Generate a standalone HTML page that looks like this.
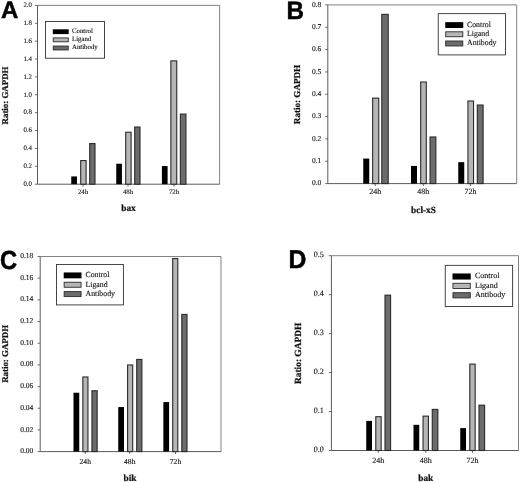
<!DOCTYPE html>
<html><head><meta charset="utf-8"><title>Figure</title>
<style>html,body{margin:0;padding:0;background:#fff;}body{width:520px;height:482px;overflow:hidden;}svg{display:block;}text{font-family:"Liberation Serif", serif;fill:#111;text-rendering:geometricPrecision;stroke:#111;stroke-width:0.12;}.b{font-family:"Liberation Sans", sans-serif;font-weight:bold;fill:#000;stroke:#000;stroke-width:0.5;stroke-linejoin:round;}.s{font-weight:bold;stroke-width:0.22;}</style>
</head><body>
<svg width="520" height="482" viewBox="0 0 520 482">
<defs><filter id="soft" x="0" y="0" width="100%%" height="100%%" filterUnits="userSpaceOnUse"><feGaussianBlur stdDeviation="0.32"/></filter></defs>
<rect x="0" y="0" width="520" height="482" fill="#fff"/>
<g filter="url(#soft)">
<g>
<path d="M37.50 5.40 H219.60 V184.20" fill="none" stroke="#5a5a5a" stroke-width="0.75"/>
<path d="M37.50 5.40 V184.20 H219.60" fill="none" stroke="#4a4a4a" stroke-width="0.9"/>
<path d="M34.90 184.20 H37.50" stroke="#4a4a4a" stroke-width="0.8"/>
<text x="32.00" y="185.95" font-size="6.90" text-anchor="end">0.0</text>
<path d="M34.90 166.32 H37.50" stroke="#4a4a4a" stroke-width="0.8"/>
<text x="32.00" y="168.07" font-size="6.90" text-anchor="end">0.2</text>
<path d="M34.90 148.44 H37.50" stroke="#4a4a4a" stroke-width="0.8"/>
<text x="32.00" y="150.19" font-size="6.90" text-anchor="end">0.4</text>
<path d="M34.90 130.56 H37.50" stroke="#4a4a4a" stroke-width="0.8"/>
<text x="32.00" y="132.31" font-size="6.90" text-anchor="end">0.6</text>
<path d="M34.90 112.68 H37.50" stroke="#4a4a4a" stroke-width="0.8"/>
<text x="32.00" y="114.43" font-size="6.90" text-anchor="end">0.8</text>
<path d="M34.90 94.80 H37.50" stroke="#4a4a4a" stroke-width="0.8"/>
<text x="32.00" y="96.55" font-size="6.90" text-anchor="end">1.0</text>
<path d="M34.90 76.92 H37.50" stroke="#4a4a4a" stroke-width="0.8"/>
<text x="32.00" y="78.67" font-size="6.90" text-anchor="end">1.2</text>
<path d="M34.90 59.04 H37.50" stroke="#4a4a4a" stroke-width="0.8"/>
<text x="32.00" y="60.79" font-size="6.90" text-anchor="end">1.4</text>
<path d="M34.90 41.16 H37.50" stroke="#4a4a4a" stroke-width="0.8"/>
<text x="32.00" y="42.91" font-size="6.90" text-anchor="end">1.6</text>
<path d="M34.90 23.28 H37.50" stroke="#4a4a4a" stroke-width="0.8"/>
<text x="32.00" y="25.03" font-size="6.90" text-anchor="end">1.8</text>
<path d="M34.90 5.40 H37.50" stroke="#4a4a4a" stroke-width="0.8"/>
<text x="32.00" y="7.15" font-size="6.90" text-anchor="end">2.0</text>
<rect x="71.25" y="176.42" width="5.70" height="7.78" fill="#000"/>
<rect x="80.70" y="160.56" width="5.40" height="23.64" fill="#b6b6b6" stroke="#2a2a2a" stroke-width="1.1"/>
<rect x="89.70" y="143.58" width="5.30" height="40.62" fill="#6c6c6c" stroke="#2a2a2a" stroke-width="1.1"/>
<rect x="116.25" y="163.73" width="5.70" height="20.47" fill="#000"/>
<rect x="125.70" y="132.22" width="5.40" height="51.98" fill="#b6b6b6" stroke="#2a2a2a" stroke-width="1.1"/>
<rect x="134.70" y="127.04" width="5.30" height="57.16" fill="#6c6c6c" stroke="#2a2a2a" stroke-width="1.1"/>
<rect x="161.90" y="166.05" width="5.70" height="18.15" fill="#000"/>
<rect x="170.85" y="60.88" width="5.90" height="123.32" fill="#b6b6b6" stroke="#2a2a2a" stroke-width="1.1"/>
<rect x="180.35" y="114.07" width="5.60" height="70.13" fill="#6c6c6c" stroke="#2a2a2a" stroke-width="1.1"/>
<path d="M83.00 184.20 V186.60" stroke="#4a4a4a" stroke-width="0.8"/>
<text x="83.00" y="194.10" font-size="6.80" text-anchor="middle">24h</text>
<path d="M128.00 184.20 V186.60" stroke="#4a4a4a" stroke-width="0.8"/>
<text x="128.00" y="194.10" font-size="6.80" text-anchor="middle">48h</text>
<path d="M174.00 184.20 V186.60" stroke="#4a4a4a" stroke-width="0.8"/>
<text x="174.00" y="194.10" font-size="6.80" text-anchor="middle">72h</text>
<text class="s" x="128.50" y="210.90" font-size="9.3" text-anchor="middle">bax</text>
<text class="s" transform="translate(8.30 95.50) rotate(-90)" font-size="8.90" text-anchor="middle">Ratio: GAPDH</text>
<rect x="45.50" y="21.50" width="59.00" height="36.75" fill="#fff" stroke="#333" stroke-width="0.9"/>
<rect x="52.80" y="29.30" width="15.90" height="4.80" fill="#000"/>
<text x="72.00" y="32.90" font-size="6.80">Control</text>
<rect x="53.25" y="37.90" width="15.00" height="3.90" fill="#b6b6b6" stroke="#2a2a2a" stroke-width="0.9"/>
<text x="72.00" y="41.05" font-size="6.80">Ligand</text>
<rect x="53.25" y="46.05" width="15.00" height="3.90" fill="#6c6c6c" stroke="#2a2a2a" stroke-width="0.9"/>
<text x="72.00" y="49.20" font-size="6.80">Antibody</text>
<text class="b" transform="translate(1.10 18.20) scale(1.000 1)" font-size="24.00">A</text>
</g>
<g>
<path d="M327.80 4.90 H516.70 V183.60" fill="none" stroke="#5a5a5a" stroke-width="0.75"/>
<path d="M327.80 4.90 V183.60 H516.70" fill="none" stroke="#4a4a4a" stroke-width="0.9"/>
<path d="M325.20 183.60 H327.80" stroke="#4a4a4a" stroke-width="0.8"/>
<text x="321.30" y="185.20" font-size="7.50" text-anchor="end">0.0</text>
<path d="M325.20 161.26 H327.80" stroke="#4a4a4a" stroke-width="0.8"/>
<text x="321.30" y="162.86" font-size="7.50" text-anchor="end">0.1</text>
<path d="M325.20 138.93 H327.80" stroke="#4a4a4a" stroke-width="0.8"/>
<text x="321.30" y="140.53" font-size="7.50" text-anchor="end">0.2</text>
<path d="M325.20 116.59 H327.80" stroke="#4a4a4a" stroke-width="0.8"/>
<text x="321.30" y="118.19" font-size="7.50" text-anchor="end">0.3</text>
<path d="M325.20 94.25 H327.80" stroke="#4a4a4a" stroke-width="0.8"/>
<text x="321.30" y="95.85" font-size="7.50" text-anchor="end">0.4</text>
<path d="M325.20 71.91 H327.80" stroke="#4a4a4a" stroke-width="0.8"/>
<text x="321.30" y="73.51" font-size="7.50" text-anchor="end">0.5</text>
<path d="M325.20 49.57 H327.80" stroke="#4a4a4a" stroke-width="0.8"/>
<text x="321.30" y="51.17" font-size="7.50" text-anchor="end">0.6</text>
<path d="M325.20 27.24 H327.80" stroke="#4a4a4a" stroke-width="0.8"/>
<text x="321.30" y="28.84" font-size="7.50" text-anchor="end">0.7</text>
<path d="M325.20 4.90 H327.80" stroke="#4a4a4a" stroke-width="0.8"/>
<text x="321.30" y="6.50" font-size="7.50" text-anchor="end">0.8</text>
<rect x="363.25" y="158.58" width="6.00" height="25.02" fill="#000"/>
<rect x="372.65" y="98.10" width="6.10" height="85.50" fill="#b6b6b6" stroke="#2a2a2a" stroke-width="1.1"/>
<rect x="381.80" y="14.34" width="6.40" height="169.26" fill="#6c6c6c" stroke="#2a2a2a" stroke-width="1.1"/>
<rect x="411.00" y="165.95" width="6.00" height="17.65" fill="#000"/>
<rect x="420.70" y="82.02" width="5.60" height="101.58" fill="#b6b6b6" stroke="#2a2a2a" stroke-width="1.1"/>
<rect x="430.05" y="136.97" width="5.80" height="46.63" fill="#6c6c6c" stroke="#2a2a2a" stroke-width="1.1"/>
<rect x="458.25" y="162.16" width="6.00" height="21.44" fill="#000"/>
<rect x="467.95" y="101.00" width="5.60" height="82.60" fill="#b6b6b6" stroke="#2a2a2a" stroke-width="1.1"/>
<rect x="477.30" y="105.03" width="5.80" height="78.57" fill="#6c6c6c" stroke="#2a2a2a" stroke-width="1.1"/>
<path d="M375.25 183.60 V186.00" stroke="#4a4a4a" stroke-width="0.8"/>
<text x="375.25" y="194.40" font-size="8.00" text-anchor="middle">24h</text>
<path d="M423.25 183.60 V186.00" stroke="#4a4a4a" stroke-width="0.8"/>
<text x="423.25" y="194.40" font-size="8.00" text-anchor="middle">48h</text>
<path d="M470.50 183.60 V186.00" stroke="#4a4a4a" stroke-width="0.8"/>
<text x="470.50" y="194.40" font-size="8.00" text-anchor="middle">72h</text>
<text class="s" x="423.50" y="212.90" font-size="9.3" text-anchor="middle">bcl-xS</text>
<text class="s" transform="translate(299.80 94.50) rotate(-90)" font-size="9.10" text-anchor="middle">Ratio: GAPDH</text>
<rect x="438.25" y="13.65" width="67.25" height="41.25" fill="#fff" stroke="#333" stroke-width="0.9"/>
<rect x="445.25" y="22.15" width="18.00" height="5.85" fill="#000"/>
<text x="467.00" y="26.65" font-size="7.80">Control</text>
<rect x="445.70" y="31.80" width="17.10" height="4.95" fill="#b6b6b6" stroke="#2a2a2a" stroke-width="0.9"/>
<text x="467.00" y="35.85" font-size="7.80">Ligand</text>
<rect x="445.70" y="41.00" width="17.10" height="4.95" fill="#6c6c6c" stroke="#2a2a2a" stroke-width="0.9"/>
<text x="467.00" y="45.05" font-size="7.80">Antibody</text>
<text class="b" transform="translate(286.60 18.80) scale(0.960 1)" font-size="25.20">B</text>
</g>
<g>
<path d="M40.20 256.50 H221.00 V451.60" fill="none" stroke="#5a5a5a" stroke-width="0.75"/>
<path d="M40.20 256.50 V451.60 H221.00" fill="none" stroke="#4a4a4a" stroke-width="0.9"/>
<path d="M37.60 451.60 H40.20" stroke="#4a4a4a" stroke-width="0.8"/>
<text x="33.30" y="453.20" font-size="7.50" text-anchor="end">0.00</text>
<path d="M37.60 429.92 H40.20" stroke="#4a4a4a" stroke-width="0.8"/>
<text x="33.30" y="431.52" font-size="7.50" text-anchor="end">0.02</text>
<path d="M37.60 408.24 H40.20" stroke="#4a4a4a" stroke-width="0.8"/>
<text x="33.30" y="409.84" font-size="7.50" text-anchor="end">0.04</text>
<path d="M37.60 386.57 H40.20" stroke="#4a4a4a" stroke-width="0.8"/>
<text x="33.30" y="388.17" font-size="7.50" text-anchor="end">0.06</text>
<path d="M37.60 364.89 H40.20" stroke="#4a4a4a" stroke-width="0.8"/>
<text x="33.30" y="366.49" font-size="7.50" text-anchor="end">0.08</text>
<path d="M37.60 343.21 H40.20" stroke="#4a4a4a" stroke-width="0.8"/>
<text x="33.30" y="344.81" font-size="7.50" text-anchor="end">0.10</text>
<path d="M37.60 321.53 H40.20" stroke="#4a4a4a" stroke-width="0.8"/>
<text x="33.30" y="323.13" font-size="7.50" text-anchor="end">0.12</text>
<path d="M37.60 299.86 H40.20" stroke="#4a4a4a" stroke-width="0.8"/>
<text x="33.30" y="301.46" font-size="7.50" text-anchor="end">0.14</text>
<path d="M37.60 278.18 H40.20" stroke="#4a4a4a" stroke-width="0.8"/>
<text x="33.30" y="279.78" font-size="7.50" text-anchor="end">0.16</text>
<path d="M37.60 256.50 H40.20" stroke="#4a4a4a" stroke-width="0.8"/>
<text x="33.30" y="257.70" font-size="7.50" text-anchor="end">0.18</text>
<rect x="73.50" y="392.74" width="5.75" height="58.86" fill="#000"/>
<rect x="82.85" y="376.99" width="5.10" height="74.61" fill="#b6b6b6" stroke="#2a2a2a" stroke-width="1.1"/>
<rect x="91.95" y="390.75" width="5.20" height="60.85" fill="#6c6c6c" stroke="#2a2a2a" stroke-width="1.1"/>
<rect x="118.25" y="407.05" width="5.75" height="44.55" fill="#000"/>
<rect x="127.60" y="364.96" width="5.10" height="86.64" fill="#b6b6b6" stroke="#2a2a2a" stroke-width="1.1"/>
<rect x="136.70" y="359.43" width="5.20" height="92.17" fill="#6c6c6c" stroke="#2a2a2a" stroke-width="1.1"/>
<rect x="163.35" y="402.07" width="5.75" height="49.53" fill="#000"/>
<rect x="172.70" y="258.52" width="5.10" height="193.08" fill="#b6b6b6" stroke="#2a2a2a" stroke-width="1.1"/>
<rect x="181.80" y="314.45" width="5.20" height="137.15" fill="#6c6c6c" stroke="#2a2a2a" stroke-width="1.1"/>
<path d="M85.25 451.60 V454.00" stroke="#4a4a4a" stroke-width="0.8"/>
<text x="85.25" y="464.00" font-size="7.60" text-anchor="middle">24h</text>
<path d="M129.75 451.60 V454.00" stroke="#4a4a4a" stroke-width="0.8"/>
<text x="129.75" y="464.00" font-size="7.60" text-anchor="middle">48h</text>
<path d="M175.50 451.60 V454.00" stroke="#4a4a4a" stroke-width="0.8"/>
<text x="175.50" y="464.00" font-size="7.60" text-anchor="middle">72h</text>
<text class="s" x="130.00" y="480.90" font-size="9.3" text-anchor="middle">bik</text>
<text class="s" transform="translate(8.30 353.90) rotate(-90)" font-size="8.90" text-anchor="middle">Ratio: GAPDH</text>
<rect x="56.50" y="264.45" width="66.90" height="40.45" fill="#fff" stroke="#333" stroke-width="0.9"/>
<rect x="63.70" y="272.45" width="17.80" height="5.90" fill="#000"/>
<text x="85.50" y="277.25" font-size="7.80">Control</text>
<rect x="64.15" y="282.25" width="16.90" height="5.00" fill="#b6b6b6" stroke="#2a2a2a" stroke-width="0.9"/>
<text x="85.50" y="286.60" font-size="7.80">Ligand</text>
<rect x="64.15" y="291.60" width="16.90" height="5.00" fill="#6c6c6c" stroke="#2a2a2a" stroke-width="0.9"/>
<text x="85.50" y="295.95" font-size="7.80">Antibody</text>
<text class="b" transform="translate(0.00 269.10) scale(0.905 1)" font-size="26.20">C</text>
</g>
<g>
<path d="M331.40 255.70 H518.50 V450.50" fill="none" stroke="#5a5a5a" stroke-width="0.75"/>
<path d="M331.40 255.70 V450.50 H518.50" fill="none" stroke="#4a4a4a" stroke-width="0.9"/>
<path d="M328.80 450.50 H331.40" stroke="#4a4a4a" stroke-width="0.8"/>
<text x="323.90" y="452.10" font-size="8.10" text-anchor="end">0.0</text>
<path d="M328.80 411.54 H331.40" stroke="#4a4a4a" stroke-width="0.8"/>
<text x="323.90" y="413.14" font-size="8.10" text-anchor="end">0.1</text>
<path d="M328.80 372.58 H331.40" stroke="#4a4a4a" stroke-width="0.8"/>
<text x="323.90" y="374.18" font-size="8.10" text-anchor="end">0.2</text>
<path d="M328.80 333.62 H331.40" stroke="#4a4a4a" stroke-width="0.8"/>
<text x="323.90" y="335.22" font-size="8.10" text-anchor="end">0.3</text>
<path d="M328.80 294.66 H331.40" stroke="#4a4a4a" stroke-width="0.8"/>
<text x="323.90" y="296.26" font-size="8.10" text-anchor="end">0.4</text>
<path d="M328.80 255.70 H331.40" stroke="#4a4a4a" stroke-width="0.8"/>
<text x="323.90" y="257.30" font-size="8.10" text-anchor="end">0.5</text>
<rect x="366.25" y="420.89" width="5.75" height="29.61" fill="#000"/>
<rect x="375.80" y="416.72" width="5.35" height="33.78" fill="#b6b6b6" stroke="#2a2a2a" stroke-width="1.1"/>
<rect x="385.00" y="295.16" width="5.60" height="155.34" fill="#6c6c6c" stroke="#2a2a2a" stroke-width="1.1"/>
<rect x="413.50" y="424.83" width="5.75" height="25.67" fill="#000"/>
<rect x="423.05" y="416.13" width="5.35" height="34.37" fill="#b6b6b6" stroke="#2a2a2a" stroke-width="1.1"/>
<rect x="432.25" y="409.39" width="5.60" height="41.11" fill="#6c6c6c" stroke="#2a2a2a" stroke-width="1.1"/>
<rect x="460.25" y="428.10" width="5.75" height="22.40" fill="#000"/>
<rect x="469.80" y="364.12" width="5.35" height="86.38" fill="#b6b6b6" stroke="#2a2a2a" stroke-width="1.1"/>
<rect x="479.00" y="405.18" width="5.60" height="45.32" fill="#6c6c6c" stroke="#2a2a2a" stroke-width="1.1"/>
<path d="M378.25 450.50 V452.90" stroke="#4a4a4a" stroke-width="0.8"/>
<text x="378.25" y="462.90" font-size="8.00" text-anchor="middle">24h</text>
<path d="M425.75 450.50 V452.90" stroke="#4a4a4a" stroke-width="0.8"/>
<text x="425.75" y="462.90" font-size="8.00" text-anchor="middle">48h</text>
<path d="M472.50 450.50 V452.90" stroke="#4a4a4a" stroke-width="0.8"/>
<text x="472.50" y="462.90" font-size="8.00" text-anchor="middle">72h</text>
<text class="s" x="425.75" y="480.90" font-size="9.3" text-anchor="middle">bak</text>
<text class="s" transform="translate(300.60 353.40) rotate(-90)" font-size="9.40" text-anchor="middle">Ratio: GAPDH</text>
<rect x="445.25" y="265.35" width="67.35" height="41.15" fill="#fff" stroke="#333" stroke-width="0.9"/>
<rect x="452.50" y="273.45" width="18.25" height="6.10" fill="#000"/>
<text x="475.00" y="278.35" font-size="8.00">Control</text>
<rect x="452.95" y="283.30" width="17.35" height="5.20" fill="#b6b6b6" stroke="#2a2a2a" stroke-width="0.9"/>
<text x="475.00" y="287.75" font-size="8.00">Ligand</text>
<rect x="452.95" y="292.70" width="17.35" height="5.20" fill="#6c6c6c" stroke="#2a2a2a" stroke-width="0.9"/>
<text x="475.00" y="297.15" font-size="8.00">Antibody</text>
<text class="b" transform="translate(288.60 267.50) scale(0.965 1)" font-size="25.70">D</text>
</g>
</g>
</svg>
</body></html>
